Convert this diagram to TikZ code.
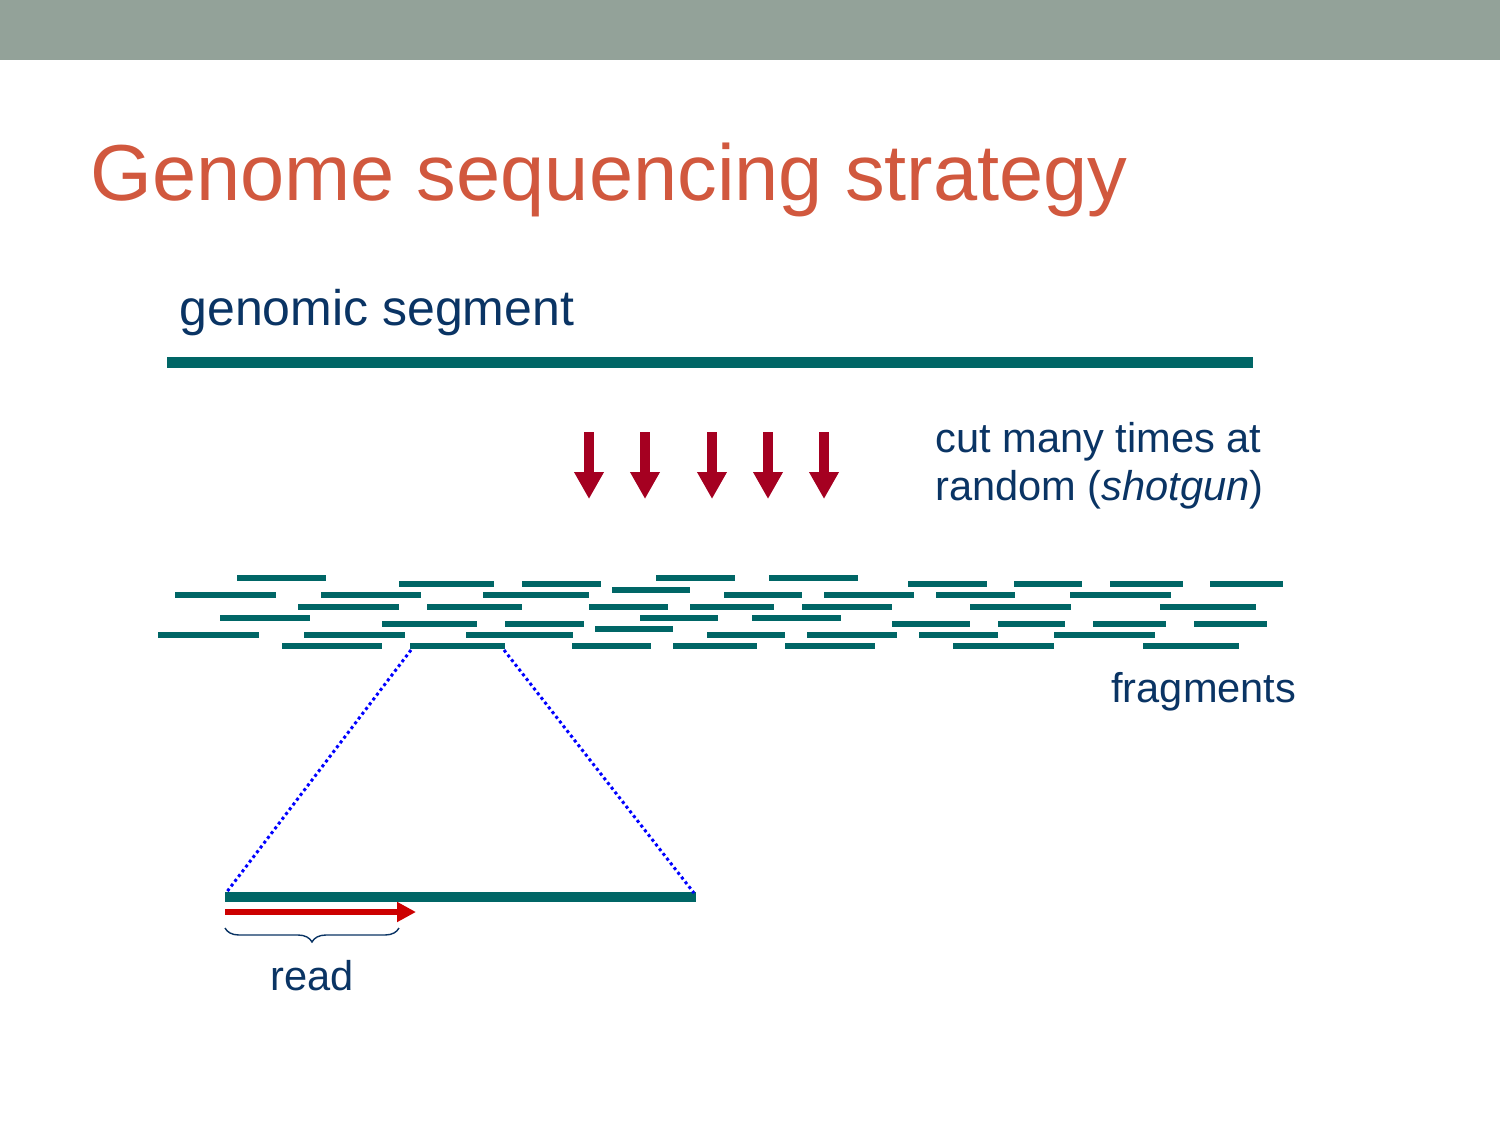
\documentclass[tikz,border=0pt]{standalone}
\usepackage{fontspec}
\setmainfont{Liberation Sans}
\usetikzlibrary{arrows.meta,decorations.pathreplacing}
\definecolor{hdr}{RGB}{147,162,153}
\definecolor{ttl}{RGB}{209,88,62}
\definecolor{txt}{RGB}{10,52,100}
\definecolor{teal}{RGB}{0,102,102}
\definecolor{cutred}{RGB}{165,0,33}
\definecolor{readred}{RGB}{204,0,0}
\tikzset{
  lbl/.style={inner sep=0pt, anchor=base west, text=txt, font=\fontsize{20.8}{24}\selectfont},
  segline/.style={teal, line width=5.5pt},
  fragline/.style={teal, line width=3pt},
  cutarrow/.style={cutred, line width=5pt, -{Triangle[length=13.5pt,width=14pt]}},
  zoomline/.style={blue, line width=1.5pt, dash pattern=on 1.5pt off 1.5pt},
  readarrow/.style={readred, line width=3pt, -{Triangle[length=9.5pt,width=9.5pt]}},
  bracestyle/.style={txt, line width=0.7pt, decorate, decoration={brace, amplitude=7pt}}
}
\begin{document}
\begin{tikzpicture}[x=0.5pt,y=-0.5pt]
\useasboundingbox (0,0) rectangle (1500,1125);
% header bar
\fill[hdr] (0,0) rectangle (1500,60);
% title
\node[inner sep=0pt, anchor=base west, text=ttl, font=\fontsize{39.7}{48}\selectfont] (title) at (90,200) {Genome sequencing strategy};
% genomic segment
\node[lbl, font=\fontsize{25}{30}\selectfont] (seglbl) at (179,325) {genomic segment};
\coordinate (segL) at (167,362);
\coordinate (segR) at (1253,362);
\draw[segline] (segL) -- (segR);
% cut arrows
\foreach \x [count=\i] in {589,645,712,768,824} {
  \coordinate (cutTop\i) at (\x,432);
  \coordinate (cutBot\i) at (\x,499);
  \draw[cutarrow] (cutTop\i) -- (cutBot\i);
}
\node[lbl] (cutA) at (935,452) {cut many times at};
\node[lbl] (cutB) at (935,500) {random (\textit{shotgun})};
% fragments
\foreach \a/\b/\y in {
  237/326/578, 656/735/578, 769/858/578,
  399/494/584, 522/601/584, 908/987/584, 1014/1082/584, 1110/1183/584, 1210/1283/584,
  612/690/590,
  175/276/595, 321/421/595, 483/589/595, 724/802/595, 824/914/595, 936/1015/595, 1070/1171/595,
  298/399/607, 427/522/607, 589/668/607, 690/774/607, 802/892/607, 970/1071/607, 1160/1256/607,
  220/310/618, 640/718/618, 752/841/618,
  382/477/624, 505/584/624, 892/970/624, 998/1065/624, 1093/1166/624, 1194/1267/624,
  595/673/629,
  158/259/635, 304/405/635, 466/573/635, 707/785/635, 807/897/635, 919/998/635, 1054/1155/635,
  282/382/646, 572/651/646, 673/757/646, 785/875/646, 953/1054/646, 1143/1239/646} {
  \draw[fragline] (\a,\y) -- (\b,\y);
}
% the fragment that is enlarged
\coordinate (fragL) at (410,646);
\coordinate (fragR) at (505,646);
\draw[fragline] (fragL) -- (fragR);
\node[lbl] (fraglbl) at (1111,702) {fragments};
% enlarged fragment
\coordinate (bigL) at (225,897);
\coordinate (bigR) at (696,897);
\draw[teal, line width=5pt] (bigL) -- (bigR);
\coordinate (fragLb) at (411,650);
\coordinate (fragRb) at (504,650);
\coordinate (bigLt) at (226,893);
\coordinate (bigRt) at (694,893);
\draw[zoomline] (fragLb) -- (bigLt);
\draw[zoomline] (fragRb) -- (bigRt);
% read arrow
\coordinate (readS) at (225,912);
\coordinate (readE) at (416,912);
\draw[readarrow] (readS) -- (readE);
% brace
\coordinate (brR) at (399,928);
\coordinate (brL) at (225,928);
\draw[bracestyle] (brR) -- (brL);
\node[lbl, anchor=base] (readlbl) at (312,990) {read};
\end{tikzpicture}
\end{document}
